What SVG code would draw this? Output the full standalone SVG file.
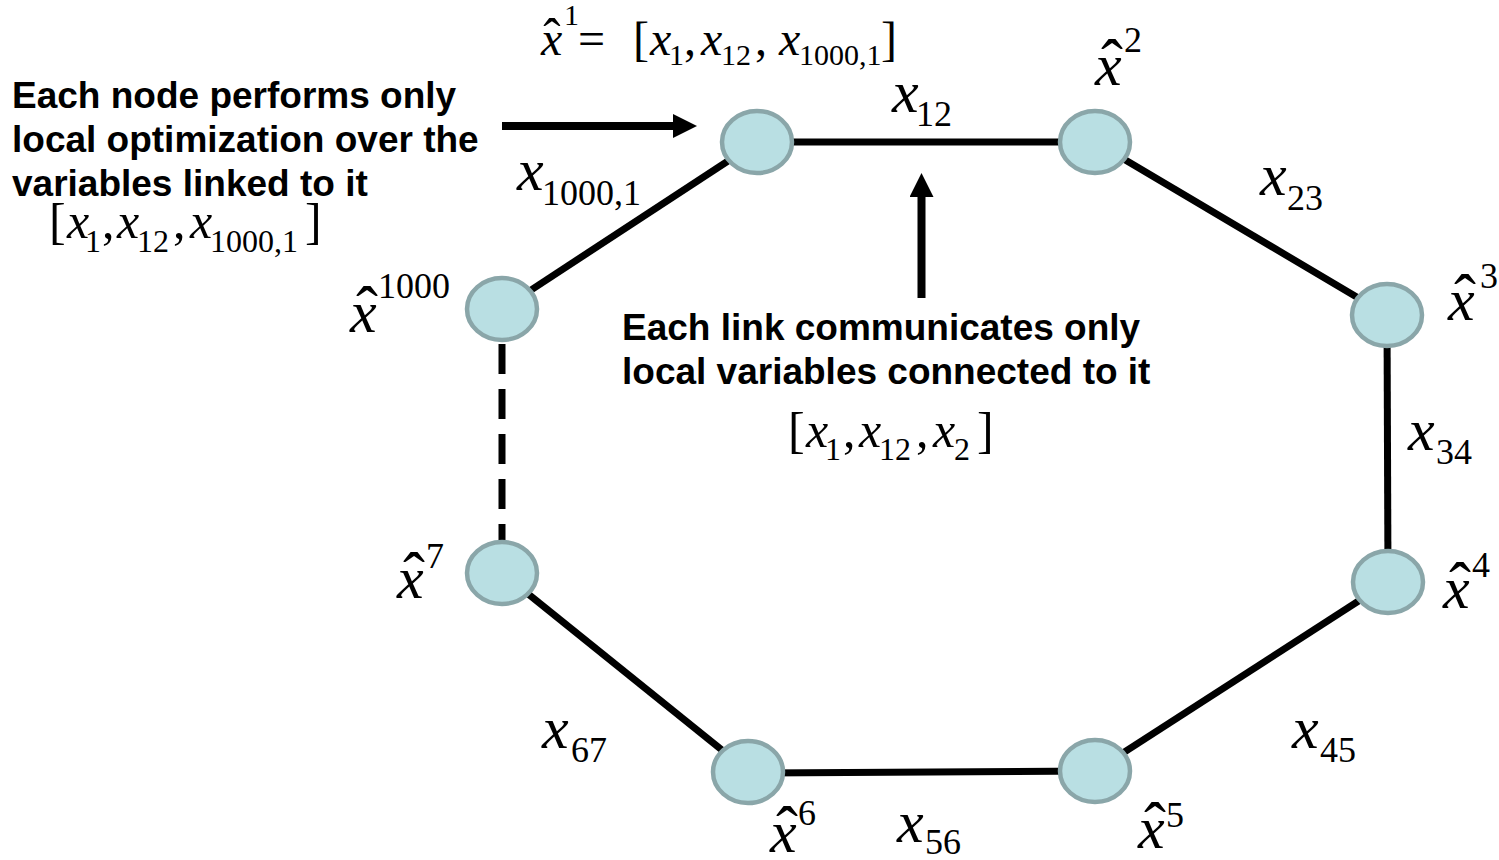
<svg xmlns="http://www.w3.org/2000/svg" width="1499" height="860" viewBox="0 0 1499 860">
<style>
.mi{font-family:"Liberation Serif","Times New Roman",serif;font-style:italic;fill:#000}
.mn{font-family:"Liberation Serif","Times New Roman",serif;fill:#000}
.hat{font-family:"Liberation Serif","Times New Roman",serif;fill:#000;text-anchor:middle}
.L{font-size:60px}
.S{font-size:36px}
.M{font-size:50px}
.MS{font-size:32px}
.T{font-size:48px}
.TS{font-size:30px}
.b{font-family:"Liberation Sans",Arial,sans-serif;font-weight:bold;font-size:37px;fill:#000}
.node{fill:#b9dfe3;stroke:#8aa6a9;stroke-width:4.5}
.edge{stroke:#000;stroke-width:7;fill:none}
.arrow{stroke:#000;stroke-width:8;fill:none}
</style>
<defs>
<marker id="ah" viewBox="0 0 24 24" refX="0" refY="12" markerWidth="24" markerHeight="24" markerUnits="userSpaceOnUse" orient="auto">
<path d="M0,0 L24,12 L0,24 z" fill="#000"/>
</marker>
</defs>
<rect width="1499" height="860" fill="#fff"/>

<g id="connectors">
<line class="edge" x1="757" y1="142" x2="1095" y2="142"/>
<line class="edge" x1="757" y1="142" x2="502" y2="309"/>
<line class="edge" x1="1095" y1="142" x2="1387" y2="315"/>
<line class="edge" x1="1387" y1="315" x2="1388" y2="582"/>
<line class="edge" x1="1388" y1="582" x2="1095" y2="771"/>
<line class="edge" x1="1095" y1="771" x2="748" y2="773"/>
<line class="edge" x1="748" y1="771" x2="502" y2="573"/>
<line class="edge" x1="502" y1="344" x2="502" y2="541" stroke-dasharray="30 15"/>
<line class="arrow" x1="502" y1="126" x2="673" y2="126" marker-end="url(#ah)"/>
<line class="arrow" x1="921.5" y1="298" x2="921.5" y2="197" marker-end="url(#ah)"/>
</g>

<g id="node1"><ellipse class="node" cx="757" cy="142" rx="35" ry="31"/></g>
<g id="node2"><ellipse class="node" cx="1095" cy="142" rx="35" ry="31"/></g>
<g id="node3"><ellipse class="node" cx="1387" cy="315" rx="35" ry="31"/></g>
<g id="node4"><ellipse class="node" cx="1388" cy="582" rx="35" ry="31"/></g>
<g id="node5"><ellipse class="node" cx="1095" cy="771" rx="35" ry="31"/></g>
<g id="node6"><ellipse class="node" cx="748" cy="772" rx="35" ry="31"/></g>
<g id="node7"><ellipse class="node" cx="502" cy="573" rx="35" ry="31"/></g>
<g id="node1000"><ellipse class="node" cx="502" cy="309" rx="35" ry="31"/></g>

<g id="edge-labels">
<text class="mi L" x="892" y="112">x</text><text class="mn S" x="916" y="126">12</text>
<text class="mi L" x="517" y="190">x</text><text class="mn S" x="542" y="205">1000,1</text>
<text class="mi L" x="1260" y="195">x</text><text class="mn S" x="1287" y="210">23</text>
<text class="mi L" x="1408" y="450">x</text><text class="mn S" x="1436" y="464">34</text>
<text class="mi L" x="1292" y="748">x</text><text class="mn S" x="1320" y="762">45</text>
<text class="mi L" x="897" y="842">x</text><text class="mn S" x="925" y="854">56</text>
<text class="mi L" x="542" y="748">x</text><text class="mn S" x="571" y="762">67</text>
</g>

<g id="node-labels">
<text class="mi L" x="1095" y="85">x</text><text class="hat" font-size="66" x="1112" y="85">ˆ</text><text class="mn S" x="1124" y="52">2</text>
<text class="mi L" x="1448" y="320">x</text><text class="hat" font-size="66" x="1465" y="320">ˆ</text><text class="mn S" x="1480" y="288">3</text>
<text class="mi L" x="1443" y="608">x</text><text class="hat" font-size="66" x="1460" y="608">ˆ</text><text class="mn S" x="1472" y="577">4</text>
<text class="mi L" x="1138" y="848">x</text><text class="hat" font-size="66" x="1155" y="848">ˆ</text><text class="mn S" x="1166" y="827">5</text>
<text class="mi L" x="770" y="852">x</text><text class="hat" font-size="66" x="787" y="852">ˆ</text><text class="mn S" x="798" y="825">6</text>
<text class="mi L" x="397" y="598">x</text><text class="hat" font-size="66" x="414" y="598">ˆ</text><text class="mn S" x="426" y="568">7</text>
<text class="mi L" x="350" y="332">x</text><text class="hat" font-size="66" x="367" y="332">ˆ</text><text class="mn S" x="378" y="298">1000</text>
</g>

<g id="top-formula">
<text class="mi T" x="541" y="55">x</text><text class="hat" font-size="52" x="552" y="55">ˆ</text><text class="mn TS" x="564" y="25">1</text>
<text class="mn T" x="578" y="55">=</text>
<text class="mn T" x="633" y="55">[</text>
<text class="mi T" x="650" y="55">x</text><text class="mn TS" x="669" y="65">1</text>
<text class="mn T" x="684" y="55">,</text>
<text class="mi T" x="701" y="55">x</text><text class="mn TS" x="721" y="65">12</text>
<text class="mn T" x="755" y="55">,</text>
<text class="mi T" x="779" y="55">x</text><text class="mn TS" x="799" y="65">1000,1</text>
<text class="mn T" x="881" y="55">]</text>
</g>

<g id="node-note">
<text class="b" x="12" y="108">Each node performs only</text>
<text class="b" x="12" y="152">local optimization over the</text>
<text class="b" x="12" y="196">variables linked to it</text>
<text class="mn M" x="49" y="238">[</text>
<text class="mi M" x="67" y="238">x</text><text class="mn MS" x="85" y="252">1</text>
<text class="mn M" x="102" y="238">,</text>
<text class="mi M" x="117" y="238">x</text><text class="mn MS" x="137" y="252">12</text>
<text class="mn M" x="173" y="238">,</text>
<text class="mi M" x="190" y="238">x</text><text class="mn MS" x="210" y="252">1000,1</text>
<text class="mn M" x="305" y="238">]</text>
</g>

<g id="link-note">
<text class="b" x="622" y="340">Each link communicates only</text>
<text class="b" x="622" y="384">local variables connected to it</text>
<text class="mn M" x="788" y="447">[</text>
<text class="mi M" x="806" y="447">x</text><text class="mn MS" x="825" y="460">1</text>
<text class="mn M" x="843" y="447">,</text>
<text class="mi M" x="859" y="447">x</text><text class="mn MS" x="879" y="460">12</text>
<text class="mn M" x="916" y="447">,</text>
<text class="mi M" x="933" y="447">x</text><text class="mn MS" x="954" y="460">2</text>
<text class="mn M" x="977" y="447">]</text>
</g>
</svg>
